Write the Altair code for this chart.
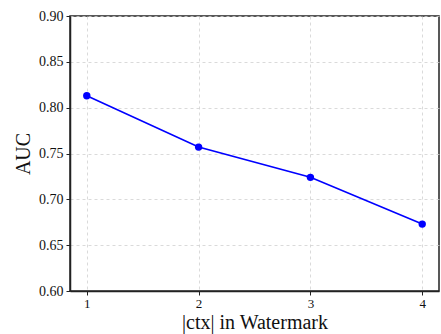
import altair as alt
import pandas as pd

ctx = [1, 2, 3, 4]
auc = [0.813, 0.757, 0.724, 0.673]

df = pd.DataFrame({"ctx": ctx, "auc": auc})

SERIF = "Liberation Serif"

x = alt.X("ctx:Q", scale=alt.Scale(domain=[0.85, 4.15], nice=False, zero=False),
          axis=alt.Axis(values=[1, 2, 3, 4], format="d", title="|ctx| in Watermark",
                        titleFont=SERIF, labelFont=SERIF,
                        titleFontSize=20, titleFontWeight="normal", titlePadding=2,
                        labelFontSize=13, labelPadding=2))
y = alt.Y("auc:Q", scale=alt.Scale(domain=[0.60, 0.90], nice=False, zero=False),
          axis=alt.Axis(values=[0.60, 0.65, 0.70, 0.75, 0.80, 0.85, 0.90], format=".2f",
                        title="AUC", titleFont=SERIF, labelFont=SERIF,
                        titleFontSize=20, titleFontWeight="normal", titlePadding=5,
                        labelFontSize=14, labelPadding=3))

line = alt.Chart(df).mark_line(color="#0000ff", strokeWidth=1.6).encode(x=x, y=y)
pts = alt.Chart(df).mark_point(color="#0000ff", filled=True, opacity=1, size=55).encode(x=x, y=y)

chart = (line + pts).properties(
    width=369, height=275,
    autosize=alt.AutoSizeParams(type="none"),
    padding={"left": 70, "top": 16, "right": 2, "bottom": 43},
).configure(font=SERIF).configure_axis(
    domainColor="#222222", domainWidth=1.5, tickColor="#222222", tickSize=4,
    labelColor="#111111", titleColor="#111111",
    gridColor="#d0d0d0", gridDash=[3, 3], gridWidth=0.8,
).configure_view(stroke="#222222", strokeWidth=1.5)

chart.save("out.html", embed_options={"renderer": "svg", "actions": False})
